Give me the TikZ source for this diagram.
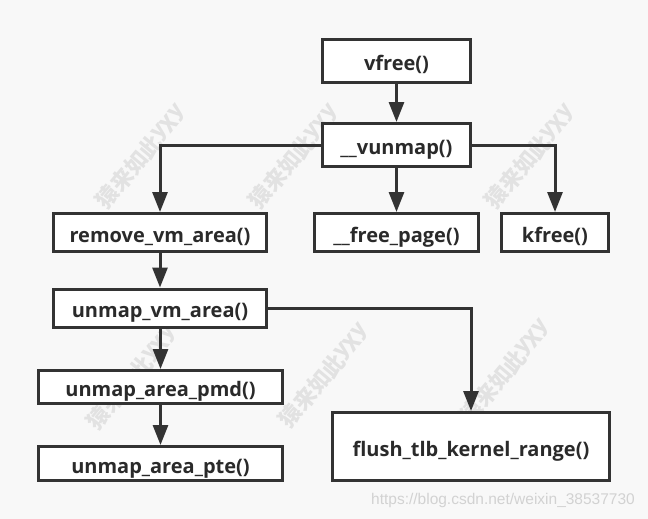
\documentclass[tikz,border=0pt]{standalone}
\usepackage{fontspec}
\setmainfont{Open Sans}
\setsansfont{Liberation Sans}
\newfontfamily\cjkwm{Noto Sans CJK SC}
\usetikzlibrary{arrows.meta}
\definecolor{ink}{HTML}{333333}
\definecolor{txt}{HTML}{2A2A2A}
\definecolor{bgc}{HTML}{F8F8F8}
\definecolor{wm}{HTML}{E2E2E2}
\definecolor{urlc}{HTML}{D2D2D2}
\tikzset{
  fbox/.style={draw=ink, line width=3pt, fill=white, inner sep=0pt, text=txt,
    text height=19.5pt, text depth=0pt,
    font=\fontsize{20}{22}\selectfont\bfseries},
  conn/.style={draw=ink, line width=3pt, -{Triangle[length=20pt,width=15pt]}},
  wmark/.style={text=wm, rotate=50, inner sep=0pt, font=\cjkwm\bfseries\fontsize{22}{24}\selectfont},
}
\begin{document}
\begin{tikzpicture}[x=1pt,y=-1pt]
\fill[bgc] (0,0) rectangle (648,519);
\useasboundingbox (0,0) rectangle (648,519);
% watermarks, one glyph at a time along a 50 degree line
\foreach \cx/\cy in {141/157,294/157,530/157,132/378,324/376,505/372}{
  \foreach \c/\d in {猿/-52,来/-30,如/-8,此/14,y/31,X/44,y/57}
    \node[wmark] at ({\cx+0.643*\d},{\cy-0.766*\d}) {\c};
}
\node[text=urlc, font=\sffamily\fontsize{15.5}{17}\selectfont] (url) at (503,500) {https://blog.csdn.net/weixin\_38537730};
% boxes
\node[fbox, minimum width=148pt, minimum height=43pt] (vfree) at (396.5,61) {vfree()};
\node[fbox, minimum width=148pt, minimum height=43pt] (vunmap) at (396.5,145) {\_\_vunmap()};
\node[fbox, minimum width=213pt, minimum height=38pt] (rva) at (160,232.5) {remove\_vm\_area()};
\node[fbox, minimum width=164pt, minimum height=38pt] (fp) at (396.5,232.5) {\_\_free\_page()};
\node[fbox, minimum width=107pt, minimum height=38pt] (kfree) at (555,232.5) {kfree()};
\node[fbox, minimum width=213pt, minimum height=38pt] (uva) at (160,308) {unmap\_vm\_area()};
\node[fbox, minimum width=244pt, minimum height=33pt] (pmd) at (160.5,387) {unmap\_area\_pmd()};
\node[fbox, minimum width=244pt, minimum height=34pt] (pte) at (160.5,463.5) {unmap\_area\_pte()};
\node[fbox, minimum width=277pt, minimum height=68pt] (flush) at (471,446.5) {flush\_tlb\_kernel\_range()};
% connectors
\draw[conn] (vfree) -- (vunmap);
\draw[conn] (vunmap.west) -| (rva.north);
\draw[conn] (vunmap.east) -| (kfree.north);
\draw[conn] (vunmap) -- (fp);
\draw[conn] (rva) -- (uva);
\draw[conn] (uva.east) -| (flush.north);
\draw[conn] (uva.south -| pmd.north) -- (pmd.north);
\draw[conn] (pmd) -- (pte);
\end{tikzpicture}
\end{document}
